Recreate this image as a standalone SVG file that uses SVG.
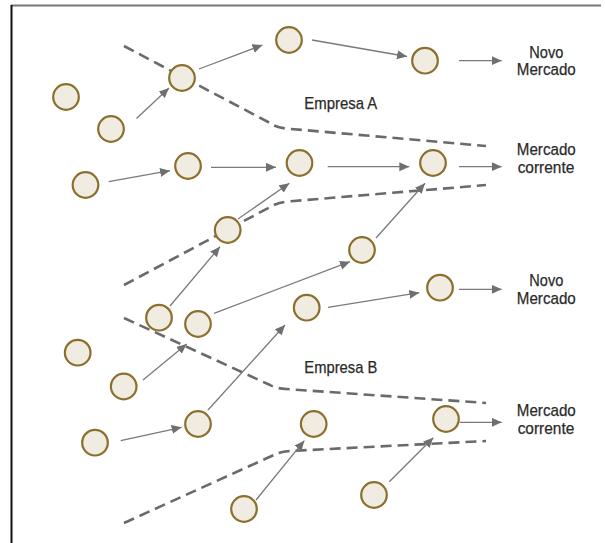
<svg xmlns="http://www.w3.org/2000/svg" width="605" height="543" viewBox="0 0 605 543">
<defs>
<marker id="ah" markerUnits="userSpaceOnUse" markerWidth="11" markerHeight="10" refX="10" refY="4.5" orient="auto">
<path d="M0,0 L10,4.5 L0,9 z" fill="#6f6f6f"/>
</marker>
<style>
.n{fill:#f0ece2;stroke:#8c6f2c;stroke-width:2.2}
.a{stroke:#7a7a7a;stroke-width:1.3;fill:none;marker-end:url(#ah)}
.d{stroke:#6a6a6a;stroke-width:2.6;fill:none;stroke-dasharray:11 6}
.t{font-family:"Liberation Sans",Arial,sans-serif;font-size:17px;fill:#2a2a2a;stroke:#2a2a2a;stroke-width:0.25;text-anchor:middle}
</style>
</defs>
<rect width="605" height="543" fill="#fff"/>
<line x1="11" y1="5.5" x2="601" y2="5.5" stroke="#777" stroke-width="2"/>
<line x1="11.5" y1="5" x2="11.5" y2="543" stroke="#111" stroke-width="2"/>

<g id="boundaries">
<path class="d" d="M124,46 L270,123 Q276,127.5 286,128.5 L486,146"/>
<path class="d" d="M124,285 L272,206 Q278,202.5 288,201.5 L486,185"/>
<path class="d" d="M124,318 L270,385 Q276,388.5 286,389 L486,403"/>
<path class="d" d="M124,523 L276,454 Q281,451.5 290,451 L486,441"/>
</g>

<g id="connectors">
<line class="a" x1="136.5" y1="118.5" x2="169" y2="88"/>
<line class="a" x1="199" y1="69" x2="262.5" y2="45"/>
<line class="a" x1="312" y1="40" x2="407" y2="56.5"/>
<line class="a" x1="459" y1="60.7" x2="501.7" y2="60.7"/>
<line class="a" x1="108.7" y1="181.7" x2="170" y2="170.7"/>
<line class="a" x1="211" y1="167.3" x2="276" y2="167.3"/>
<line class="a" x1="327.7" y1="166.7" x2="409.3" y2="166.7"/>
<line class="a" x1="459" y1="166.7" x2="501.7" y2="166.7"/>
<line class="a" x1="238" y1="219" x2="289.3" y2="183.3"/>
<line class="a" x1="170" y1="306" x2="220" y2="246.7"/>
<line class="a" x1="214" y1="313.3" x2="350" y2="261.7"/>
<line class="a" x1="376" y1="238" x2="425" y2="183.3"/>
<line class="a" x1="328" y1="307.3" x2="419.3" y2="292.7"/>
<line class="a" x1="459" y1="289.3" x2="501.7" y2="289.3"/>
<line class="a" x1="143" y1="380" x2="186.7" y2="344"/>
<line class="a" x1="208" y1="410" x2="285" y2="325"/>
<line class="a" x1="120.7" y1="440.7" x2="181.7" y2="427.3"/>
<line class="a" x1="256" y1="500" x2="304.3" y2="440.7"/>
<line class="a" x1="389.3" y1="481.7" x2="433.3" y2="437.7"/>
<line class="a" x1="460" y1="422.3" x2="501.7" y2="422.3"/>
</g>

<g id="n1"><circle class="n" cx="66" cy="97" r="12.8"/></g>
<g id="n2"><circle class="n" cx="111" cy="129" r="12.8"/></g>
<g id="n3"><circle class="n" cx="182" cy="78" r="12.8"/></g>
<g id="n4"><circle class="n" cx="85.5" cy="185" r="12.8"/></g>
<g id="n5"><circle class="n" cx="188" cy="166" r="12.8"/></g>
<g id="n6"><circle class="n" cx="289" cy="40" r="12.8"/></g>
<g id="n7"><circle class="n" cx="425" cy="60.7" r="12.8"/></g>
<g id="n8"><circle class="n" cx="299.5" cy="163" r="12.8"/></g>
<g id="n9"><circle class="n" cx="433" cy="163" r="12.8"/></g>
<g id="n10"><circle class="n" cx="227.7" cy="230" r="12.8"/></g>
<g id="n11"><circle class="n" cx="159" cy="317.7" r="12.8"/></g>
<g id="n12"><circle class="n" cx="198" cy="324" r="12.8"/></g>
<g id="n13"><circle class="n" cx="77.7" cy="352.7" r="12.8"/></g>
<g id="n14"><circle class="n" cx="123.7" cy="386.5" r="12.8"/></g>
<g id="n15"><circle class="n" cx="362" cy="250" r="12.8"/></g>
<g id="n16"><circle class="n" cx="440" cy="287.7" r="12.8"/></g>
<g id="n17"><circle class="n" cx="306.7" cy="307.7" r="12.8"/></g>
<g id="n18"><circle class="n" cx="198" cy="424" r="12.8"/></g>
<g id="n19"><circle class="n" cx="95" cy="442.7" r="12.8"/></g>
<g id="n20"><circle class="n" cx="244" cy="509" r="12.8"/></g>
<g id="n21"><circle class="n" cx="313.7" cy="424" r="12.8"/></g>
<g id="n22"><circle class="n" cx="446" cy="419" r="12.8"/></g>
<g id="n23"><circle class="n" cx="374" cy="495" r="12.8"/></g>

<g id="label-novo-a">
<text class="t" x="546.3" y="57.5" textLength="34" lengthAdjust="spacingAndGlyphs">Novo</text>
<text class="t" x="546.3" y="75" textLength="59" lengthAdjust="spacingAndGlyphs">Mercado</text>
</g>
<g id="label-empresa-a"><text class="t" x="340.8" y="109.3" textLength="73" lengthAdjust="spacingAndGlyphs">Empresa A</text></g>
<g id="label-corrente-a">
<text class="t" x="546.3" y="155" textLength="59" lengthAdjust="spacingAndGlyphs">Mercado</text>
<text class="t" x="546" y="172.7" textLength="56.7" lengthAdjust="spacingAndGlyphs">corrente</text>
</g>
<g id="label-novo-b">
<text class="t" x="546.3" y="286" textLength="34" lengthAdjust="spacingAndGlyphs">Novo</text>
<text class="t" x="546.3" y="304" textLength="59" lengthAdjust="spacingAndGlyphs">Mercado</text>
</g>
<g id="label-empresa-b"><text class="t" x="340.8" y="373.3" textLength="73" lengthAdjust="spacingAndGlyphs">Empresa B</text></g>
<g id="label-corrente-b">
<text class="t" x="546.3" y="416" textLength="59" lengthAdjust="spacingAndGlyphs">Mercado</text>
<text class="t" x="546" y="433.5" textLength="56.7" lengthAdjust="spacingAndGlyphs">corrente</text>
</g>
</svg>
